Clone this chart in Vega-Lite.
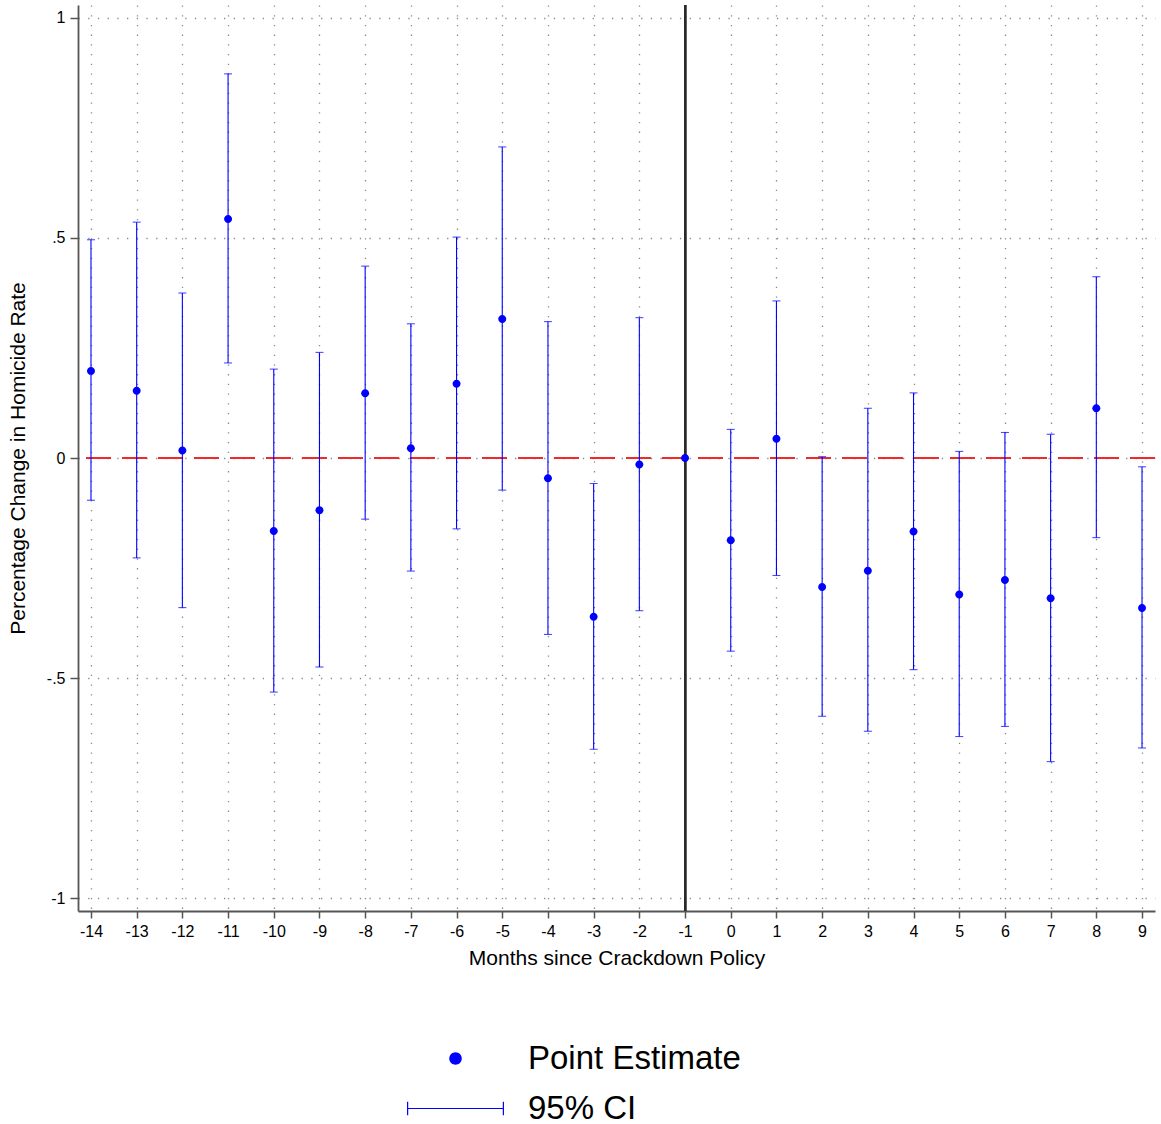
{
  "$schema": "https://vega.github.io/schema/vega-lite/v6.json",
  "autosize": {"type": "none"},
  "padding": {"left": 78, "top": 5, "right": 6, "bottom": 213},
  "width": 1077,
  "height": 906,
  "background": "white",
  "config": {
    "font": "Liberation Sans",
    "view": {"stroke": null},
    "axis": {
      "domainColor": "#555",
      "domainWidth": 1.8,
      "tickColor": "#555",
      "tickWidth": 1.5,
      "tickSize": 7,
      "labelColor": "black",
      "labelFont": "Liberation Sans",
      "labelFontSize": 16,
      "titleFont": "Liberation Sans",
      "titleFontSize": 21,
      "titleFontWeight": "normal",
      "titleColor": "black",
      "grid": true,
      "gridColor": "#8a8a8a",
      "gridDash": [1.3, 8.4],
      "gridWidth": 1.3
    }
  },
  "data": {
    "values": [
      {"month": -14, "est": 0.198, "lo": -0.096, "hi": 0.496},
      {"month": -13, "est": 0.153, "lo": -0.227, "hi": 0.536},
      {"month": -12, "est": 0.017, "lo": -0.340, "hi": 0.375},
      {"month": -11, "est": 0.543, "lo": 0.216, "hi": 0.873},
      {"month": -10, "est": -0.166, "lo": -0.532, "hi": 0.202},
      {"month": -9, "est": -0.119, "lo": -0.475, "hi": 0.240},
      {"month": -8, "est": 0.147, "lo": -0.139, "hi": 0.436},
      {"month": -7, "est": 0.022, "lo": -0.257, "hi": 0.305},
      {"month": -6, "est": 0.169, "lo": -0.161, "hi": 0.502},
      {"month": -5, "est": 0.316, "lo": -0.073, "hi": 0.707},
      {"month": -4, "est": -0.046, "lo": -0.401, "hi": 0.310},
      {"month": -3, "est": -0.361, "lo": -0.662, "hi": -0.058},
      {"month": -2, "est": -0.015, "lo": -0.347, "hi": 0.319},
      {"month": -1, "est": 0, "lo": null, "hi": null},
      {"month": 0, "est": -0.187, "lo": -0.439, "hi": 0.065},
      {"month": 1, "est": 0.044, "lo": -0.267, "hi": 0.357},
      {"month": 2, "est": -0.293, "lo": -0.587, "hi": 0.003},
      {"month": 3, "est": -0.256, "lo": -0.621, "hi": 0.113},
      {"month": 4, "est": -0.167, "lo": -0.481, "hi": 0.148},
      {"month": 5, "est": -0.310, "lo": -0.633, "hi": 0.015},
      {"month": 6, "est": -0.277, "lo": -0.610, "hi": 0.058},
      {"month": 7, "est": -0.319, "lo": -0.690, "hi": 0.054},
      {"month": 8, "est": 0.113, "lo": -0.181, "hi": 0.412},
      {"month": 9, "est": -0.341, "lo": -0.659, "hi": -0.020}
    ]
  },
  "encoding": {
    "x": {
      "field": "month",
      "type": "quantitative",
      "title": "Months since Crackdown Policy",
      "scale": {"domain": [-14.284, 9.284], "nice": false, "zero": false},
      "axis": {
        "values": [-14,-13,-12,-11,-10,-9,-8,-7,-6,-5,-4,-3,-2,-1,0,1,2,3,4,5,6,7,8,9],
        "labelExpr": "'' + datum.value",
        "labelPadding": 5,
        "titlePadding": 8,
        "labelFlush": false
      }
    }
  },
  "layer": [
    {
      "mark": {"type": "rule", "color": "#f02a2a", "strokeWidth": 2, "strokeDash": [25, 11]},
      "encoding": {
        "x": null,
        "y": {
          "datum": 0,
          "type": "quantitative",
          "title": "Percentage Change in Homicide Rate",
          "scale": {"domain": [-1.0295, 1.0295], "nice": false, "zero": false},
          "axis": {
            "values": [-1, -0.5, 0, 0.5, 1],
            "labelExpr": "replace('' + datum.value, '0.', '.')",
            "labelPadding": 5,
            "tickSize": 8,
            "titlePadding": 18
          }
        }
      }
    },
    {
      "mark": {"type": "rule", "color": "#2a2a2a", "strokeWidth": 2},
      "encoding": {"x": {"datum": -1, "type": "quantitative"}}
    },
    {
      "transform": [{"filter": "isValid(datum.lo)"}],
      "mark": {
        "type": "errorbar",
        "color": "blue",
        "thickness": 1.1,
        "ticks": {"size": 8, "color": "blue", "thickness": 1.1},
        "rule": {"color": "blue", "strokeWidth": 1.1}
      },
      "encoding": {
        "y": {"field": "lo", "type": "quantitative", "title": "Percentage Change in Homicide Rate"},
        "y2": {"field": "hi"}
      }
    },
    {
      "mark": {"type": "point", "filled": true, "color": "blue", "opacity": 1, "size": 420},
      "encoding": {
        "y": {"field": "est", "type": "quantitative", "title": "Percentage Change in Homicide Rate"},
        "shape": {
          "datum": "Point Estimate",
          "scale": {
            "domain": ["Point Estimate", "95% CI"],
            "range": [
              "M-0.39,0A0.39,0.39,0,1,0,0.39,0A0.39,0.39,0,1,0,-0.39,0Z",
              "M-3.03,-0.425h0.075v0.3875h5.91v-0.3875h0.075v0.85h-0.075v-0.3875h-5.91v0.3875h-0.075Z"
            ]
          },
          "legend": {
            "title": null,
            "orient": "none",
            "legendX": 361,
            "legendY": 1037,
            "padding": 0,
            "labelFontSize": 33,
            "labelFont": "Liberation Sans",
            "labelColor": "black",
            "labelLimit": 0,
            "symbolSize": 1024,
            "labelOffset": 56,
            "rowPadding": 16,
            "symbolFillColor": "blue",
            "symbolStrokeColor": "blue",
            "symbolStrokeWidth": 0,
            "symbolOpacity": 1,
            "encode": {
              "symbols": {
                "fill": {"value": "blue"},
                "opacity": {"value": 1}
              }
            }
          }
        }
      }
    }
  ]
}
